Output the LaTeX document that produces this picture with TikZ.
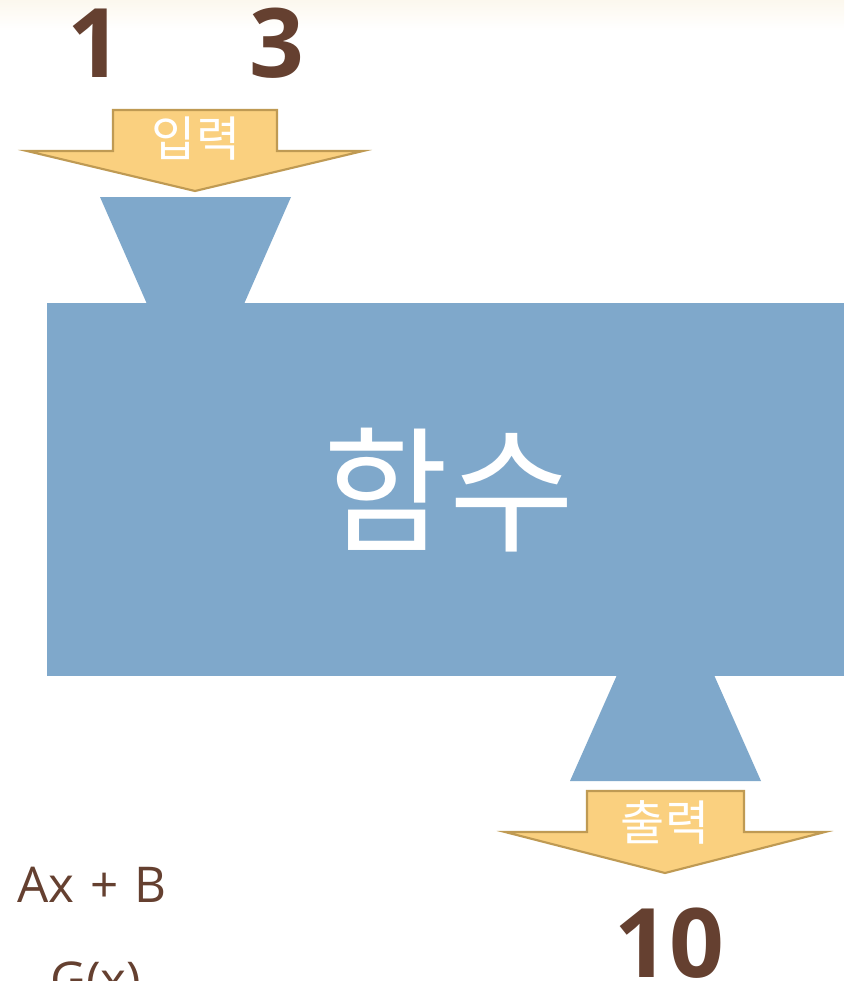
\documentclass[tikz,border=0pt]{standalone}
\usepackage{fontspec}
\setmainfont{Open Sans}
\newfontfamily\krfont{Noto Sans CJK KR}
\definecolor{brownt}{HTML}{654030}
\definecolor{arrowfill}{HTML}{FAD07F}
\definecolor{arrowline}{HTML}{BF9A53}
\definecolor{bluebox}{HTML}{7FA8CB}
\definecolor{cream}{HTML}{FCF8EE}
\tikzset{
  arrowbox/.style={fill=arrowfill, draw=arrowline, line width=1.6pt, line join=miter},
  bluepart/.style={fill=bluebox, draw=none},
  bignum/.style={text=brownt, font=\fontsize{72}{80}\selectfont\bfseries, inner sep=0pt},
  krlabel/.style={text=white, font=\krfont\fontsize{36}{40}\selectfont, inner sep=0pt},
  formula/.style={text=brownt, font=\fontsize{37}{42}\selectfont, inner sep=0pt},
}
\begin{document}
\begin{tikzpicture}[x=0.75pt,y=-0.75pt]
\useasboundingbox (0,0) rectangle (844,981);
\clip (0,0) rectangle (844,981);
\fill[white] (0,0) rectangle (844,981);
\shade[top color=cream, bottom color=white] (0,0) rectangle (844,30);

% numbers on top
\node[bignum] (one) at (95,43) {1};
\node[bignum] (three) at (276.5,43) {3};

% input arrow
\draw[arrowbox] (113,110) -- (277,110) -- (277,151) -- (363,151) -- (195,191) -- (27,151) -- (113,151) -- cycle;
\node[krlabel] (inlabel) at (196,139) {입력};

% top funnel
\fill[bluepart] (100,197) -- (291,197) -- (244,304) -- (147,304) -- cycle;
% main box
\fill[bluepart] (47,303) rectangle (844,676);
\node[text=white, font=\krfont\fontsize{102}{110}\selectfont, inner sep=0pt] (func) at (449,490) {함수};
% bottom funnel
\fill[bluepart] (617,675) -- (714,675) -- (761,781) -- (570,781) -- cycle;

% output arrow
\draw[arrowbox] (587,791) -- (744,791) -- (744,832) -- (825,832) -- (665,873) -- (505,832) -- (587,832) -- cycle;
\node[krlabel] (outlabel) at (665,822) {출력};

% output number
\node[bignum] (ten) at (669,943) {10};

% formulas
\node[formula, anchor=base west] (axb) at (17,902) {Ax\hspace{0.32em}+\hspace{0.32em}B};
\node[formula, anchor=base west] (gx) at (50,997) {G(x)};
\end{tikzpicture}
\end{document}
